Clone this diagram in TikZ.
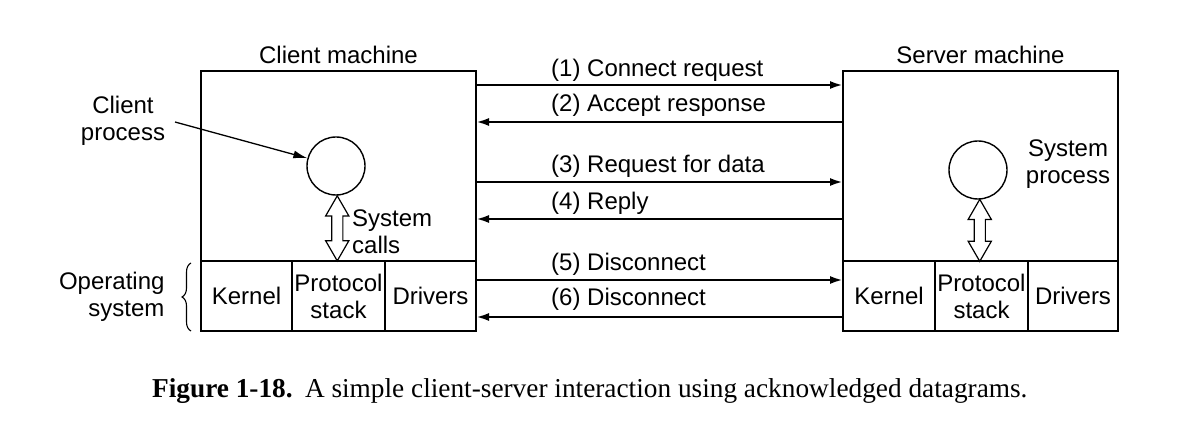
\documentclass[tikz,border=0pt]{standalone}
\usepackage{fontspec}
\setmainfont{Liberation Sans}
\newfontfamily\capfont{Liberation Serif}
\usetikzlibrary{arrows.meta,calc,shapes.arrows,decorations.pathreplacing}
\tikzset{>={Latex[length=13pt,width=8pt]}}

\begin{document}
\begin{tikzpicture}[x=1pt, y=-1pt,
    font=\fontsize{24}{27}\selectfont,
    box/.style={draw, line width=1.3pt, inner sep=0pt, outer sep=0pt},
    cell/.style={box, minimum height=70pt, align=center, anchor=north west},
    proc/.style={draw, line width=1.4pt, circle, minimum size=58pt, inner sep=0pt},
    msg/.style={->, line width=2.4pt},
    lbl/.style={anchor=base west, inner sep=0pt},
    sysarrow/.style={draw, fill=white, line width=1.2pt, double arrow,
        double arrow head extend=6pt, double arrow tip angle=60,
        inner sep=5pt, rotate=90}]
    \useasboundingbox (0,0) rectangle (1195,430);

    % machines
    \node[box, minimum width=275pt, minimum height=260pt, anchor=north west] (cm) at (201,71) {};
    \node[box, minimum width=275pt, minimum height=260pt, anchor=north west] (sm) at (843,71) {};
    \node[anchor=south, yshift=4pt] at (cm.north) {Client machine};
    \node[anchor=south, yshift=4pt] at (sm.north) {Server machine};

    % bottom rows
    \node[cell, minimum width=91pt] (ckern) at (201,261) {Kernel};
    \node[cell, minimum width=93pt] (cstack) at (ckern.north east) {Protocol\\stack};
    \node[cell, minimum width=91pt] (cdrv) at (cstack.north east) {Drivers};
    \node[cell, minimum width=92pt] (skern) at (843,261) {Kernel};
    \node[cell, minimum width=93pt] (sstack) at (skern.north east) {Protocol\\stack};
    \node[cell, minimum width=90pt] (sdrv) at (sstack.north east) {Drivers};

    % processes
    \node[proc] (cp) at (336,166) {};
    \node[proc] (sp) at (978,170) {};
    \node[sysarrow, minimum height=65pt] (csys) at ($(cp.south)!.5!(cstack.north)$) {};
    \node[sysarrow, minimum height=62pt] (ssys) at ($(sp.south)!.5!(sstack.north)$) {};
    \node[anchor=west, align=left, inner sep=0pt] (calls) at (352,232) {System\\calls};
    \node[align=center] (spl) at (1068,164) {System\\process};
    \node[align=center] (cpl) at (123,121) {Client\\process};
    \draw[->, line width=1.3pt, >={Latex[length=14pt,width=8pt]}] (175,122) -- (cp);

    % operating system
    \node[align=right, anchor=east] (os) at (168,297) {Operating\\system};
    \draw[line width=1.1pt, decorate, decoration={brace, amplitude=9pt}] (191,331) -- (191,263);

    % messages
    \draw[msg] (cm.east |- 0,85) -- (sm.west |- 0,85);
    \draw[msg] (sm.west |- 0,122) -- (cm.east |- 0,122);
    \draw[msg] (cm.east |- 0,182) -- (sm.west |- 0,182);
    \draw[msg] (sm.west |- 0,219) -- (cm.east |- 0,219);
    \draw[msg] (cm.east |- 0,280) -- (sm.west |- 0,280);
    \draw[msg] (sm.west |- 0,317) -- (cm.east |- 0,317);
    \node[lbl] at (551,77) {(1) Connect request};
    \node[lbl] at (551,112) {(2) Accept response};
    \node[lbl] at (551,173) {(3) Request for data};
    \node[lbl] at (551,210) {(4) Reply};
    \node[lbl] at (551,271) {(5) Disconnect};
    \node[lbl] at (551,306) {(6) Disconnect};

    % caption
    \node[anchor=base west, inner sep=0pt, font=\capfont\fontsize{27.3}{31}\selectfont] (cap) at (152,398)
        {\textbf{Figure 1-18.}\hspace{0.45em}A simple client-server interaction using acknowledged datagrams.};
\end{tikzpicture}
\end{document}
